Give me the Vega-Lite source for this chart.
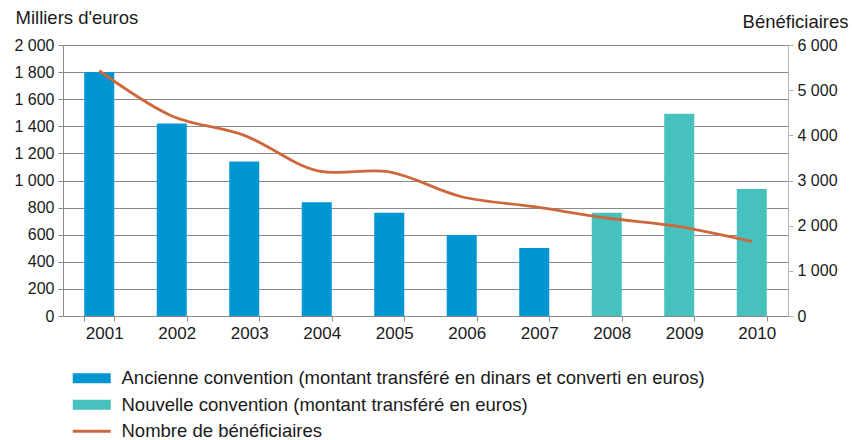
{
  "$schema": "https://vega.github.io/schema/vega-lite/v6.json",
  "width": 725,
  "height": 271,
  "autosize": {"type": "none"},
  "padding": {"left": 63, "top": 45, "right": 64, "bottom": 124},
  "background": "white",
  "config": {
    "view": {"stroke": null},
    "font": "Liberation Sans",
    "axis": {"labelColor": "#1a1a1a", "titleColor": "#1a1a1a", "titleFontWeight": "normal"}
  },
  "data": {
    "values": [
      {"annee": "2001", "montant": 1800, "convention": "Ancienne convention (montant transféré en dinars et converti en euros)", "beneficiaires": 5430},
      {"annee": "2002", "montant": 1420, "convention": "Ancienne convention (montant transféré en dinars et converti en euros)", "beneficiaires": 4430},
      {"annee": "2003", "montant": 1140, "convention": "Ancienne convention (montant transféré en dinars et converti en euros)", "beneficiaires": 4000},
      {"annee": "2004", "montant": 840, "convention": "Ancienne convention (montant transféré en dinars et converti en euros)", "beneficiaires": 3220},
      {"annee": "2005", "montant": 762, "convention": "Ancienne convention (montant transféré en dinars et converti en euros)", "beneficiaires": 3190},
      {"annee": "2006", "montant": 598, "convention": "Ancienne convention (montant transféré en dinars et converti en euros)", "beneficiaires": 2640},
      {"annee": "2007", "montant": 502, "convention": "Ancienne convention (montant transféré en dinars et converti en euros)", "beneficiaires": 2420},
      {"annee": "2008", "montant": 762, "convention": "Nouvelle convention (montant transféré en euros)", "beneficiaires": 2170},
      {"annee": "2009", "montant": 1492, "convention": "Nouvelle convention (montant transféré en euros)", "beneficiaires": 1980},
      {"annee": "2010", "montant": 938, "convention": "Nouvelle convention (montant transféré en euros)", "beneficiaires": 1650}
    ]
  },
  "encoding": {
    "x": {
      "field": "annee",
      "type": "ordinal",
      "scale": {"paddingInner": 0.586, "paddingOuter": 0.293},
      "axis": {
        "title": null,
        "labelAngle": 0,
        "tickBand": "extent",
        "tickSize": 5,
        "tickColor": "#8a8a8a",
        "domainColor": "#8a8a8a",
        "labelFontSize": 17,
        "labelPadding": 4,
        "labelOffset": 5,
        "grid": false
      }
    }
  },
  "layer": [
    {
      "mark": {"type": "bar"},
      "encoding": {
        "y": {
          "field": "montant",
          "type": "quantitative",
          "scale": {"domain": [0, 2000], "nice": false},
          "axis": {
            "title": "Milliers d'euros",
            "titleAngle": 0,
            "titleAlign": "left",
            "titleBaseline": "alphabetic",
            "titleX": -48,
            "titleY": -22,
            "titleFontSize": 18.5,
            "values": [0, 200, 400, 600, 800, 1000, 1200, 1400, 1600, 1800, 2000],
            "labelExpr": "replace(format(datum.value, ','), ',', ' ')",
            "grid": true,
            "gridColor": "#8a8a8a",
            "gridOpacity": 1,
            "domainColor": "#8a8a8a",
            "tickColor": "#8a8a8a",
            "tickSize": 5,
            "labelPadding": 4,
            "labelFontSize": 16
          }
        },
        "color": {
          "field": "convention",
          "type": "nominal",
          "scale": {
            "domain": [
              "Ancienne convention (montant transféré en dinars et converti en euros)",
              "Nouvelle convention (montant transféré en euros)",
              "Nombre de bénéficiaires"
            ],
            "range": ["#0095D3", "#47C1BE", "#CD683C"]
          },
          "legend": {
            "orient": "none",
            "legendX": 19.5,
            "legendY": 324,
            "title": null,
            "symbolSize": 100,
            "labelFontSize": 18.5,
            "labelOffset": 20.5,
            "rowPadding": 7.5,
            "padding": 0,
            "labelColor": "#1a1a1a",
            "labelLimit": 0,
            "encode": {
              "symbols": {
                "update": {
                  "shape": {"signal": "datum.value === 'Nombre de bénéficiaires' ? 'M-3.8,-0.3H3.8V0.3H-3.8Z' : 'M-3.8,-1H3.8V1H-3.8Z'"},
                  "size": {"value": 100},
                  "fill": {"scale": "color", "field": "value"},
                  "stroke": {"value": "transparent"},
                  "strokeWidth": {"value": 0},
                  "opacity": {"value": 1}
                }
              }
            }
          }
        }
      }
    },
    {
      "mark": {"type": "line", "interpolate": "catmull-rom", "strokeWidth": 2.8},
      "encoding": {
        "y": {
          "field": "beneficiaires",
          "type": "quantitative",
          "scale": {"domain": [0, 6000], "nice": false},
          "axis": {
            "orient": "right",
            "title": "Bénéficiaires",
            "titleAngle": 0,
            "titleAlign": "right",
            "titleBaseline": "alphabetic",
            "titleX": 60,
            "titleY": -18,
            "titleFontSize": 18.5,
            "values": [0, 1000, 2000, 3000, 4000, 5000, 6000],
            "labelExpr": "replace(format(datum.value, ','), ',', ' ')",
            "grid": false,
            "domainColor": "#b3b3b3",
            "tickColor": "#b3b3b3",
            "tickSize": 5,
            "labelPadding": 4,
            "labelFontSize": 16
          }
        },
        "color": {"datum": "Nombre de bénéficiaires"}
      }
    }
  ],
  "resolve": {"scale": {"y": "independent"}}
}
